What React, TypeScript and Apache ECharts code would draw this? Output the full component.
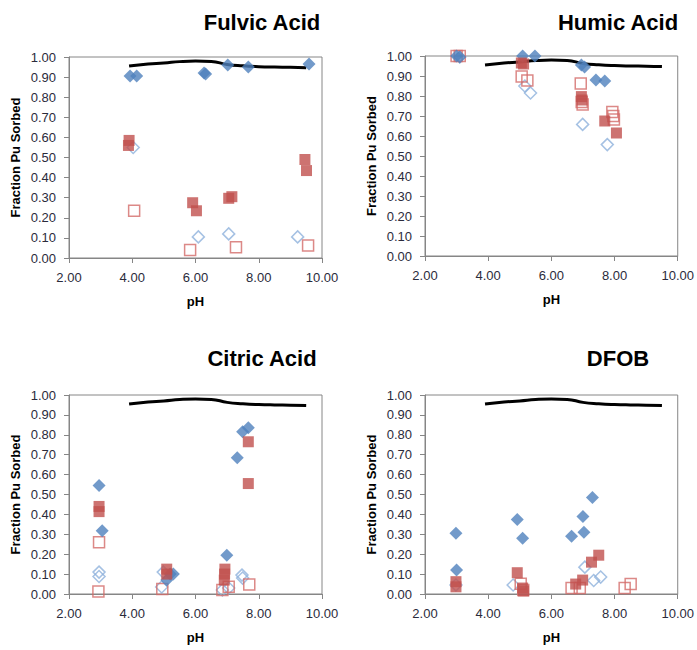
import React, { useEffect, useRef } from "react";
import * as echarts from "echarts";

// ---- data ----
const panelTitles = ["Fulvic Acid", "Humic Acid", "Citric Acid", "DFOB"];
const xAxisName = "pH";
const yAxisName = "Fraction Pu Sorbed";

// black model curve (same in every panel)
const curvePH = [3.9, 4.5, 5.0, 5.5, 6.0, 6.5, 7.0, 7.5, 8.0, 8.5, 9.0, 9.5];
const curveFraction = [0.955, 0.965, 0.97, 0.977, 0.98, 0.978, 0.963, 0.956, 0.952, 0.95, 0.949, 0.947];

// Fulvic Acid
const fulvicFilledDiamond = [[3.93, 0.905], [4.14, 0.905], [6.27, 0.92], [6.32, 0.915], [7.02, 0.96], [7.67, 0.95], [9.59, 0.965]];
const fulvicOpenDiamond = [[4.03, 0.55], [6.09, 0.105], [7.05, 0.12], [9.23, 0.105]];
const fulvicFilledSquare = [[3.9, 0.585], [3.88, 0.56], [5.91, 0.275], [6.03, 0.235], [7.05, 0.297], [7.15, 0.305], [9.46, 0.49], [9.51, 0.435]];
const fulvicOpenSquare = [[4.06, 0.235], [5.83, 0.04], [7.28, 0.053], [9.56, 0.062]];

// Humic Acid
const humicFilledDiamond = [[3.0, 1.0], [3.1, 0.995], [5.09, 1.0], [5.48, 1.0], [6.95, 0.955], [7.05, 0.945], [7.41, 0.88], [7.69, 0.875]];
const humicOpenDiamond = [[3.1, 0.995], [5.16, 0.85], [5.34, 0.815], [6.99, 0.658], [7.77, 0.557]];
const humicFilledSquare = [[5.05, 0.965], [5.12, 0.96], [6.95, 0.797], [6.97, 0.78], [7.69, 0.675], [8.06, 0.615]];
const humicOpenSquare = [[3.0, 1.0], [3.1, 1.0], [5.06, 0.897], [5.24, 0.877], [6.93, 0.862], [6.96, 0.77], [6.99, 0.757], [7.93, 0.72], [7.96, 0.7], [7.98, 0.683]];

// Citric Acid
const citricFilledDiamond = [[2.95, 0.545], [3.05, 0.318], [5.09, 0.07], [5.2, 0.1], [5.3, 0.1], [6.99, 0.195], [7.32, 0.685], [7.49, 0.815], [7.67, 0.835]];
const citricOpenDiamond = [[2.95, 0.11], [2.95, 0.088], [4.93, 0.035], [4.98, 0.11], [6.85, 0.02], [7.05, 0.03], [7.47, 0.095], [7.49, 0.08]];
const citricFilledSquare = [[2.95, 0.44], [2.95, 0.414], [5.09, 0.125], [5.09, 0.1], [6.93, 0.125], [6.92, 0.1], [6.91, 0.07], [7.67, 0.765], [7.67, 0.555]];
const citricOpenSquare = [[2.95, 0.26], [2.93, 0.012], [4.95, 0.025], [6.85, 0.02], [7.05, 0.037], [7.7, 0.048]];

// DFOB
const dfobFilledDiamond = [[2.98, 0.305], [3.0, 0.12], [4.92, 0.375], [5.09, 0.28], [6.64, 0.29], [7.03, 0.31], [7.0, 0.39], [7.3, 0.485]];
const dfobOpenDiamond = [[2.98, 0.045], [4.79, 0.045], [7.06, 0.135], [7.34, 0.068], [7.56, 0.085]];
const dfobFilledSquare = [[2.98, 0.062], [2.98, 0.036], [4.92, 0.107], [5.09, 0.03], [5.12, 0.015], [6.77, 0.05], [6.99, 0.07], [7.27, 0.16], [7.5, 0.195]];
const dfobOpenSquare = [[5.03, 0.052], [5.11, 0.02], [6.64, 0.03], [6.9, 0.03], [8.32, 0.03], [8.51, 0.05]];

const panelData = [
  [fulvicFilledDiamond, fulvicOpenDiamond, fulvicFilledSquare, fulvicOpenSquare],
  [humicFilledDiamond, humicOpenDiamond, humicFilledSquare, humicOpenSquare],
  [citricFilledDiamond, citricOpenDiamond, citricFilledSquare, citricOpenSquare],
  [dfobFilledDiamond, dfobOpenDiamond, dfobFilledSquare, dfobOpenSquare],
];

// ---- layout / style ----
const gridBoxes = [
  { left: 69, top: 57, width: 253, height: 201 },
  { left: 425, top: 56, width: 253, height: 200 },
  { left: 69, top: 395, width: 253, height: 199 },
  { left: 425, top: 395, width: 253, height: 199 },
];
const titlePos = [
  { x: 262, y: 22 },
  { x: 618, y: 22 },
  { x: 262, y: 358 },
  { x: 618, y: 358 },
];

const FONT = "'Liberation Sans', Arial, sans-serif";
const AXIS_GRAY = "#868686";
const LABEL_COLOR = "#2b2b3b";

export default function App() {
  const ref = useRef<HTMLDivElement>(null);

  useEffect(() => {
    if (!ref.current) return;
    const chart = echarts.init(ref.current, undefined, { renderer: "svg" });

    const grids: any[] = [];
    const xAxes: any[] = [];
    const yAxes: any[] = [];
    const series: any[] = [];
    const graphics: any[] = [];

    gridBoxes.forEach((g, i) => {
      grids.push({
        ...g,
        show: true,
        borderColor: AXIS_GRAY,
        borderWidth: 1,
        backgroundColor: "#ffffff",
        containLabel: false,
      });
      xAxes.push({
        type: "value",
        gridIndex: i,
        min: 2,
        max: 10,
        interval: 2,
        name: xAxisName,
        nameLocation: "middle",
        nameGap: 37,
        nameTextStyle: { fontFamily: FONT, fontWeight: "bold", fontSize: 13, color: "#000" },
        axisLine: { show: true, onZero: false, lineStyle: { color: AXIS_GRAY, width: 1 } },
        axisTick: { show: true, inside: false, length: 5, lineStyle: { color: AXIS_GRAY } },
        axisLabel: {
          fontFamily: FONT,
          fontSize: 13,
          color: LABEL_COLOR,
          margin: 13,
          formatter: (v: number) => v.toFixed(2),
        },
        splitLine: { show: false },
      });
      yAxes.push({
        type: "value",
        gridIndex: i,
        min: 0,
        max: 1,
        interval: 0.1,
        name: yAxisName,
        nameLocation: "middle",
        nameGap: 47,
        nameTextStyle: { fontFamily: FONT, fontWeight: "bold", fontSize: 13, color: "#000" },
        axisLine: { show: true, onZero: false, lineStyle: { color: AXIS_GRAY, width: 1 } },
        axisTick: { show: true, inside: false, length: 5, lineStyle: { color: AXIS_GRAY } },
        axisLabel: {
          fontFamily: FONT,
          fontSize: 13,
          color: LABEL_COLOR,
          margin: 13,
          formatter: (v: number) => v.toFixed(2),
        },
        splitLine: { show: false },
      });

      series.push({
        type: "line",
        xAxisIndex: i,
        yAxisIndex: i,
        data: curvePH.map((p, k) => [p, curveFraction[k]]),
        smooth: true,
        showSymbol: false,
        symbol: "none",
        lineStyle: { color: "#000", width: 3 },
        z: 2,
      });

      const [fd, od, fs, os] = panelData[i];
      series.push({
        type: "scatter",
        xAxisIndex: i,
        yAxisIndex: i,
        data: od,
        symbol: "diamond",
        symbolSize: 12,
        itemStyle: { color: "rgba(255,255,255,0)", borderColor: "#8FB2DC", borderWidth: 1.5 },
        z: 3,
      });
      series.push({
        type: "scatter",
        xAxisIndex: i,
        yAxisIndex: i,
        data: os,
        symbol: "rect",
        symbolSize: 11,
        itemStyle: { color: "rgba(255,255,255,0)", borderColor: "#D36B69", borderWidth: 1.5 },
        z: 3,
      });
      series.push({
        type: "scatter",
        xAxisIndex: i,
        yAxisIndex: i,
        data: fd,
        symbol: "diamond",
        symbolSize: 13,
        itemStyle: { color: "#4F81BD" },
        z: 4,
      });
      series.push({
        type: "scatter",
        xAxisIndex: i,
        yAxisIndex: i,
        data: fs,
        symbol: "rect",
        symbolSize: 11,
        itemStyle: { color: "#C0504D" },
        z: 5,
      });

      graphics.push({
        type: "text",
        x: titlePos[i].x,
        y: titlePos[i].y,
        style: {
          text: panelTitles[i],
          font: `bold 22px ${FONT}`,
          fill: "#000",
          align: "center",
          verticalAlign: "middle",
        },
      });
    });

    chart.setOption({
      animation: false,
      backgroundColor: "#ffffff",
      grid: grids,
      xAxis: xAxes,
      yAxis: yAxes,
      series,
      graphic: graphics,
    });

    return () => chart.dispose();
  }, []);

  return (
    <div
      ref={ref}
      style={{ position: "fixed", left: 0, top: 0, width: 697, height: 650, background: "#fff" }}
    />
  );
}
